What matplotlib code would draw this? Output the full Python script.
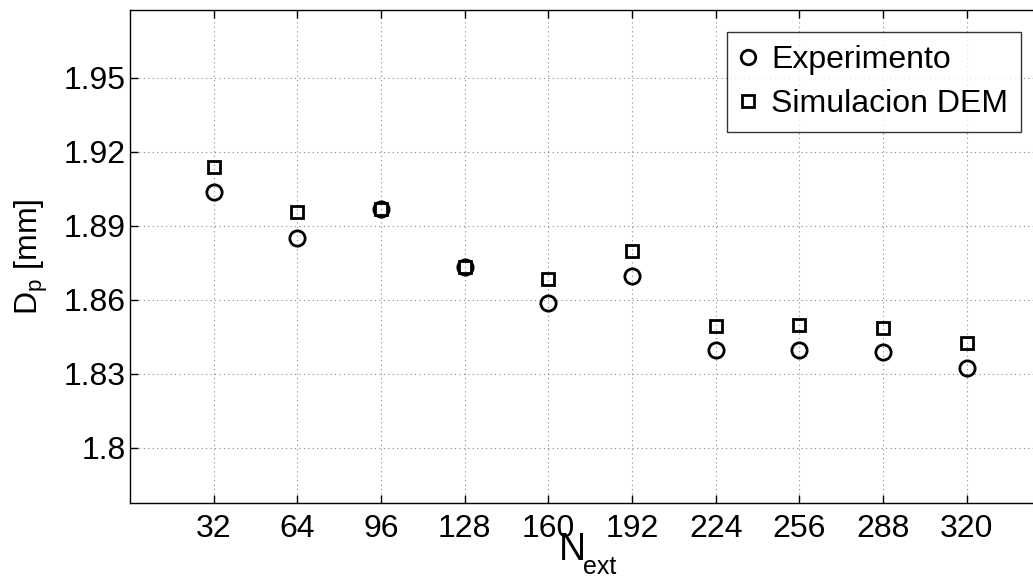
import matplotlib
matplotlib.use("Agg")
import matplotlib.pyplot as plt

plt.rcParams['font.family'] = ['Liberation Sans', 'DejaVu Sans']
plt.rcParams['mathtext.fontset'] = 'custom'
plt.rcParams['mathtext.rm'] = 'Liberation Sans'
plt.rcParams['mathtext.it'] = 'Liberation Sans'

# Number of external particles and measured/simulated diameters
n_ext = [32, 64, 96, 128, 160, 192, 224, 256, 288, 320]
dp_experimento = [1.9037, 1.8852, 1.8967, 1.8731, 1.8585, 1.8697, 1.8395, 1.8397, 1.8387, 1.8324]
dp_simulacion = [1.9138, 1.8955, 1.8967, 1.8731, 1.8683, 1.8797, 1.8494, 1.8497, 1.8486, 1.8423]
y_ticks = [1.80, 1.83, 1.86, 1.89, 1.92, 1.95]
y_tick_labels = ['1.8', '1.83', '1.86', '1.89', '1.92', '1.95']

W, H = 1033, 580
fig = plt.figure(figsize=(W / 100, H / 100), dpi=100)
ax = fig.add_axes([130 / W, 77 / H, 920.4 / W, 493 / H])

ax.plot(n_ext, dp_experimento, linestyle='none', marker='o', markersize=11,
        markerfacecolor='none', markeredgecolor='black', markeredgewidth=2.0,
        label='Experimento')
ax.plot(n_ext, dp_simulacion, linestyle='none', marker='s', markersize=9,
        markerfacecolor='none', markeredgecolor='black', markeredgewidth=2.0,
        label='Simulacion DEM')

ax.set_xlim(0, 352)
ax.set_ylim(1.7775, 1.9775)
ax.set_xticks(n_ext)
ax.set_xticklabels([str(v) for v in n_ext])
ax.set_yticks(y_ticks)
ax.set_yticklabels(y_tick_labels)

ax.tick_params(direction='in', length=6, width=1.0, labelsize=23,
               top=True, right=True)
ax.tick_params(axis='x', pad=8)
ax.tick_params(axis='y', pad=3)
for s in ax.spines.values():
    s.set_linewidth(1.0)

ax.grid(True, linestyle=(0, (1, 3)), color='#888888', linewidth=0.8)

# Axis labels: N with a dropped "ext" subscript below the tick labels
fig.text(559 / W, 1 - 560 / H, 'N', fontsize=27, ha='left', va='baseline')
fig.text(583 / W, 1 - 574 / H, 'ext', fontsize=18, ha='left', va='baseline')
ax.set_ylabel(r'D$_{\mathrm{p}}$ [mm]', fontsize=23, labelpad=10)

leg = ax.legend(loc='upper right', bbox_to_anchor=(1021 / W, 1 - 32 / H),
                bbox_transform=fig.transFigure, borderaxespad=0,
                fontsize=23, frameon=True, fancybox=False, edgecolor='black',
                handlelength=0.55, handletextpad=0.45, borderpad=0.4,
                labelspacing=0.45, markerscale=0.95)
leg.get_frame().set_linewidth(1.0)

fig.savefig('out.png', dpi=100)
